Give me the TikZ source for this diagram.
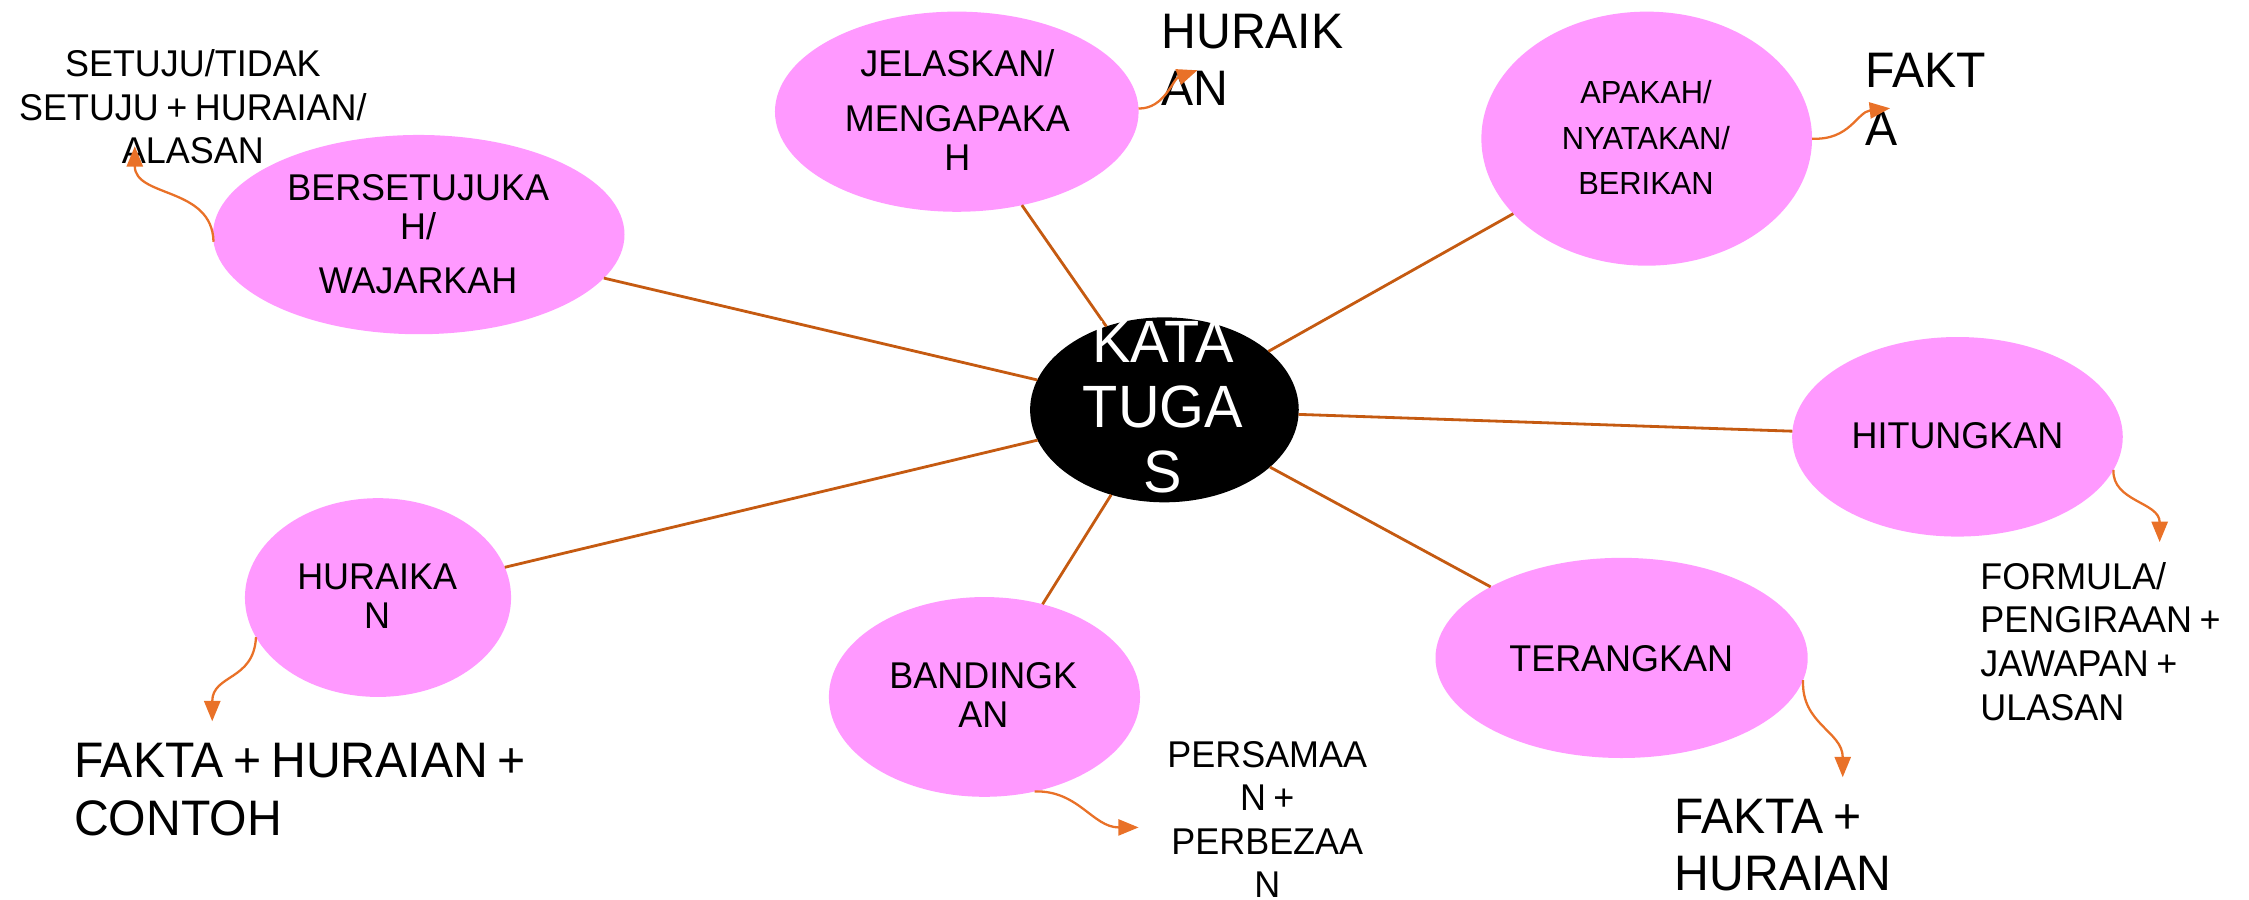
\documentclass[tikz,border=0pt]{standalone}
\usepackage{fontspec}
\setmainfont{Liberation Sans}[FakeStretch=0.965,WordSpace=0.75]
\usetikzlibrary{shapes.geometric,arrows.meta}
\definecolor{pinkfill}{RGB}{255,153,255}
\definecolor{brownline}{RGB}{197,90,17}
\definecolor{orangearr}{RGB}{233,113,40}
\newcommand\ctab[1]{\begin{tabular}[t]{@{}c@{}}#1\end{tabular}}
\newcommand\ltab[1]{\begin{tabular}[t]{@{}l@{}}#1\end{tabular}}
\begin{document}
\begin{tikzpicture}[x=0.01434cm,y=-0.01434cm,
  bubble/.style={ellipse, fill=pinkfill, inner sep=0pt, outer sep=0pt},
  hub/.style={ellipse, fill=black, inner sep=0pt, outer sep=0pt},
  spoke/.style={draw=brownline, line width=0.8pt},
  curvy/.style={draw=orangearr, line width=0.65pt, -{Triangle[length=5.8pt,width=4.6pt]}},
  lbl/.style={inner sep=0pt, outer sep=0pt, anchor=base},
  lbll/.style={inner sep=0pt, outer sep=0pt, anchor=base west},
  fs/.style={font=\fontsize{10.6}{12.4}\selectfont},
  fw/.style={font=\fontsize{10.6}{11.2}\selectfont},
  fa/.style={font=\fontsize{9.1}{12.85}\selectfont},
  fl/.style={font=\fontsize{14.2}{16.4}\selectfont},
  fk/.style={font=\fontsize{17}{18.4}\selectfont},
]
\useasboundingbox (0,0) rectangle (1568.3,627.6);

% ellipses
\node[hub, minimum width=2.687cm, minimum height=1.850cm] (kata) at (812,285.8) {};
\node[bubble, minimum width=3.637cm, minimum height=2.002cm] (jel) at (667.2,77.9) {};
\node[bubble, minimum width=4.116cm, minimum height=1.993cm] (bers) at (292,163.6) {};
\node[bubble, minimum width=3.307cm, minimum height=2.541cm] (apa) at (1148.3,96.7) {};
\node[bubble, minimum width=3.307cm, minimum height=1.996cm] (hit) at (1365,304.6) {};
\node[bubble, minimum width=3.723cm, minimum height=2.002cm] (ter) at (1130.8,458.8) {};
\node[bubble, minimum width=3.112cm, minimum height=1.998cm] (ban) at (686.5,486) {};
\node[bubble, minimum width=2.662cm, minimum height=1.988cm] (hur) at (263.6,416.7) {};

% spokes
\draw[spoke] (kata) -- (jel);
\draw[spoke] (kata) -- (bers);
\draw[spoke] (kata) -- (apa);
\draw[spoke] (kata) -- (hit);
\draw[spoke] (kata) -- (ter);
\draw[spoke] (kata) -- (ban);
\draw[spoke] (kata) -- (hur);

% texts inside ellipses
\node[lbl, fk, text=white] (kataT) at (811,253) {\ctab{KATA\\TUGA\\S}};
\node[lbl, fw] (jelT) at (667.6,53.5) {\ctab{JELASKAN/\\[4.3pt]MENGAPAKA\\H}};
\node[lbl, fw] (bersT) at (291.6,139.5) {\ctab{BERSETUJUKA\\H/\\[4.3pt]WAJARKAH}};
\node[lbl, fa] (apaT) at (1147.8,72.5) {\ctab{APAKAH/\\NYATAKAN/\\BERIKAN}};
\node[lbl, fw] (hitT) at (1365,312.6) {HITUNGKAN};
\node[lbl, fw] (terT) at (1130.5,468) {TERANGKAN};
\node[lbl, fw] (banT) at (685.7,480) {\ctab{BANDINGK\\AN}};
\node[lbl, fw] (hurT) at (263,411) {\ctab{HURAIKA\\N}};

% outer texts
\node[lbl, fs] (setT) at (134.5,53.5) {\ctab{SETUJU/TIDAK\\SETUJU + HURAIAN/\\ALASAN}};
\node[lbll, fl] (hurkT) at (810,33.7) {\ltab{HURAIK\\AN}};
\node[lbll, fl] (faktT) at (1301,61) {\ltab{FAKT\\A}};
\node[lbll, fs] (formT) at (1381,411) {\ltab{FORMULA/\\PENGIRAAN +\\JAWAPAN +\\ULASAN}};
\node[lbll, fl] (fhT) at (1168,581) {\ltab{FAKTA +\\HURAIAN}};
\node[lbl, fs] (persT) at (883.7,535) {\ctab{PERSAMAA\\N +\\PERBEZAA\\N}};
\node[lbll, fl] (fhcT) at (51.7,542.5) {\ltab{FAKTA + HURAIAN +\\CONTOH}};

% arrow tips
\coordinate (tipA) at (94,102);
\coordinate (tipB) at (835,49);
\coordinate (tipC) at (1318,75.5);
\coordinate (tipD) at (1506,378);
\coordinate (tipE) at (1285,542);
\coordinate (tipF) at (794,577);
\coordinate (tipG) at (148,503);

% curved arrows
\draw[curvy] (bers.182) .. controls (148,130) and (94,138) .. (tipA);
\draw[curvy] (jel.1) .. controls (812,76) and (818,55) .. (tipB);
\draw[curvy] (apa.east) .. controls (1290,98) and (1295,78) .. (tipC);
\draw[curvy] (hit.-12) .. controls (1473,350) and (1506,350) .. (tipD);
\draw[curvy] (ter.-7) .. controls (1256,505) and (1285,510) .. (tipE);
\draw[curvy] (ban.-62) .. controls (752,551) and (762,577) .. (tipF);
\draw[curvy] (hur.198) .. controls (177,475) and (148,470) .. (tipG);
\end{tikzpicture}
\end{document}
